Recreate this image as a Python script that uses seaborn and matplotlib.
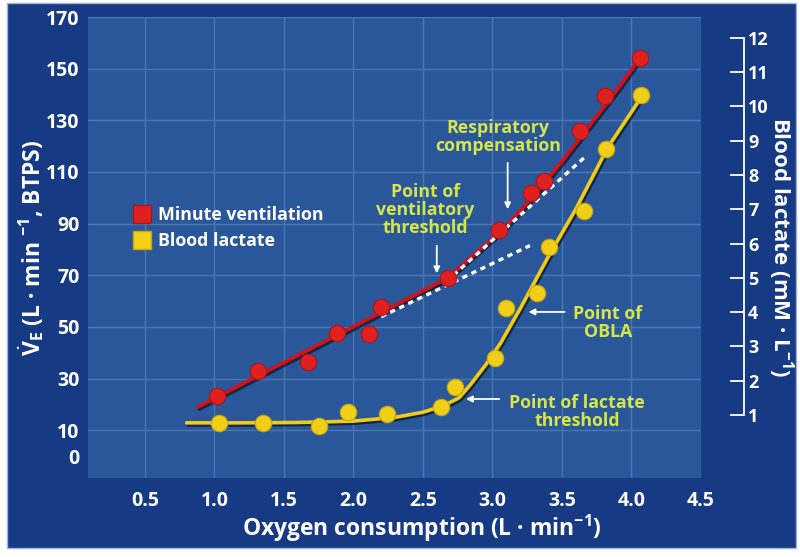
import matplotlib
matplotlib.use("Agg")
import matplotlib.pyplot as plt
import matplotlib.patheffects as pe
from matplotlib.lines import Line2D
from matplotlib.patches import Rectangle
import seaborn as sns

# minute ventilation (left axis, L/min)
ve_x = [1.02, 1.31, 1.67, 1.88, 2.11, 2.20, 2.68, 3.05, 3.28, 3.37, 3.63, 3.81, 4.06]
ve_y = [23.2, 32.9, 36.4, 47.6, 47.2, 57.7, 68.9, 87.5, 101.9, 106.5, 125.9, 139.5, 154.2]
ve_fit_x = [0.88, 1.2, 1.6, 2.0, 2.4, 2.68, 2.9, 3.1, 3.3, 3.5, 3.7, 3.9, 4.06]
ve_fit_y = [19, 27.9, 39, 50.1, 61.2, 69, 79.5, 89, 101, 114, 128, 142, 154]

# linear extrapolations (white dashes)
lin1_x = [2.2, 3.27]
lin1_y = [54, 81.5]
lin2_x = [2.72, 3.67]
lin2_y = [70, 116]

# blood lactate (right axis, mM/L)
la_x = [1.03, 1.35, 1.75, 1.96, 2.24, 2.63, 2.73, 3.02, 3.10, 3.32, 3.41, 3.66, 3.82, 4.07]
la_y = [0.77, 0.77, 0.68, 1.09, 1.03, 1.23, 1.82, 2.66, 4.12, 4.56, 5.90, 6.95, 8.76, 10.33]
la_fit_x = [0.8, 1.2, 1.6, 2.0, 2.3, 2.5, 2.65, 2.76, 2.84, 2.95, 3.06, 3.2, 3.4, 3.6, 3.83, 4.06]
la_fit_y = [0.77, 0.77, 0.78, 0.82, 0.93, 1.08, 1.27, 1.5, 1.87, 2.45, 3.1, 4.1, 5.6, 7.0, 8.8, 10.2]

x_ticks = [0.5, 1.0, 1.5, 2.0, 2.5, 3.0, 3.5, 4.0, 4.5]
ve_ticks = [0, 10, 30, 50, 70, 90, 110, 130, 150, 170]
la_ticks = list(range(1, 13))

BG = "#173a84"
PLOT_BG = "#29579a"
GRID = "#4a77b2"
RED = "#e0201f"
YELLOW = "#f2cf17"
NOTE = "#d6e64a"

sns.set_theme(style="dark")
plt.rcParams["font.family"] = ["Open Sans", "DejaVu Sans"]
plt.rcParams["font.weight"] = "bold"
plt.rcParams["mathtext.fontset"] = "custom"
plt.rcParams["mathtext.rm"] = "Open Sans:bold"
plt.rcParams["mathtext.bf"] = "Open Sans:bold"
plt.rcParams["mathtext.it"] = "Open Sans:bold"
plt.rcParams["mathtext.default"] = "bf"

fig = plt.figure(figsize=(8, 5.57), dpi=100, facecolor="white")
fig.patches.append(Rectangle((0.009, 0.016), 0.986, 0.978, transform=fig.transFigure,
                             facecolor=BG, edgecolor="#9fb0d6", lw=1, zorder=-10))
ax = fig.add_axes([0.11, 0.1418, 0.766, 0.8276])
ax.set_facecolor(PLOT_BG)
for s in ax.spines.values():
    s.set_visible(False)
ax.grid(True, color=GRID, lw=1)

shadow = [pe.SimpleLineShadow(offset=(1.2, -1.5), shadow_color="black", alpha=0.55), pe.Normal()]

sns.lineplot(x=ve_fit_x, y=ve_fit_y, ax=ax, color="#d4111b", lw=2.6, sort=False, estimator=None)
ax.lines[-1].set_path_effects(shadow)
for lx, ly in [(lin1_x, lin1_y), (lin2_x, lin2_y)]:
    sns.lineplot(x=lx, y=ly, ax=ax, color="white", lw=2.4, sort=False, estimator=None)
    ax.lines[-1].set_dashes([1.6, 1.4])
    ax.lines[-1].set_zorder(3)
sns.scatterplot(x=ve_x, y=ve_y, ax=ax, s=140, color=RED, edgecolor="#a8161a", lw=0.8, zorder=4)

ax.set_xlim(0.09, 4.5)
ax.set_ylim(-8.5, 170)
ax.set_xticks(x_ticks)
ax.set_xticklabels([f"{v:.1f}" for v in x_ticks])
ax.set_yticks(ve_ticks)
ax.yaxis.get_gridlines()[0].set_visible(False)
ax.tick_params(axis="both", length=0, colors="white", labelsize=14)
ax.tick_params(axis="x", pad=9)
ax.tick_params(axis="y", pad=6)
ax.set_xlabel("Oxygen consumption (L · min$^{-1}$)", color="white", fontsize=16.5, fontweight="bold")
ax.xaxis.set_label_coords(0.545, -0.075)
ax.set_ylabel(r"$\dot{V}_E$ (L · min $^{-1}$, BTPS)", color="white", fontsize=16.5, fontweight="bold")
ax.yaxis.set_label_coords(-0.068, 0.5)

ax2 = ax.twinx()
ax2.set_ylim(-0.84, 12.61)
sns.lineplot(x=la_fit_x, y=la_fit_y, ax=ax2, color="#f0cc18", lw=2.6, sort=False, estimator=None)
ax2.lines[-1].set_path_effects(shadow)
sns.scatterplot(x=la_x, y=la_y, ax=ax2, s=140, color=YELLOW, edgecolor="#c9a50f", lw=0.8, zorder=4)
ax2.set_xlim(0.09, 4.5)
ax2.grid(False)
for side in ["top", "left", "bottom"]:
    ax2.spines[side].set_visible(False)
ax2.spines["right"].set_position(("outward", 31))
ax2.spines["right"].set_bounds(1, 12)
ax2.spines["right"].set_color("white")
ax2.spines["right"].set_linewidth(1.3)
ax2.set_yticks(la_ticks)
ax2.tick_params(axis="y", direction="in", length=10, width=1.3, color="white",
                colors="white", labelsize=13, pad=3)
ax2.set_ylabel("Blood lactate (mM · L$^{-1}$)", color="white", fontsize=16,
               fontweight="bold", rotation=270, va="center")
ax2.yaxis.set_label_coords(1.13, 0.5)

# annotations
arrow = dict(arrowstyle="-|>", color="white", lw=1.3, mutation_scale=9)
note_size = 12.8
ax.annotate("", xy=(3.11, 94.5), xytext=(3.11, 114.6), arrowprops=arrow)
ax.text(3.04, 123.5, "Respiratory\ncompensation", color=NOTE, fontsize=note_size,
        ha="center", va="center", linespacing=1.0)
ax.annotate("", xy=(2.60, 69.7), xytext=(2.60, 82.5), arrowprops=arrow)
ax.text(2.52, 95.3, "Point of\nventilatory\nthreshold", color=NOTE, fontsize=note_size,
        ha="center", va="center", linespacing=1.0)
ax.annotate("", xy=(3.24, 55.8), xytext=(3.54, 55.8), arrowprops=arrow)
ax.text(3.83, 51.5, "Point of\nOBLA", color=NOTE, fontsize=note_size,
        ha="center", va="center", linespacing=1.0)
ax.annotate("", xy=(2.79, 22.1), xytext=(3.07, 22.1), arrowprops=arrow)
ax.text(3.61, 17.0, "Point of lactate\nthreshold", color=NOTE, fontsize=note_size,
        ha="center", va="center", linespacing=1.0)

handles = [Line2D([], [], marker="s", ls="", ms=13, color=RED, markeredgecolor="#a8161a"),
           Line2D([], [], marker="s", ls="", ms=13, color="#f5d21a", markeredgecolor="#c9a50f")]
leg = ax.legend(handles, ["Minute ventilation", "Blood lactate"], loc="upper left",
                bbox_to_anchor=(0.073, 0.59), frameon=False, fontsize=12.8,
                handlelength=1.0, handletextpad=0.4, labelspacing=0.45,
                borderaxespad=0, borderpad=0)
for t in leg.get_texts():
    t.set_color("white")
    t.set_fontweight("bold")

fig.savefig("out.png", dpi=100, facecolor=fig.get_facecolor())
